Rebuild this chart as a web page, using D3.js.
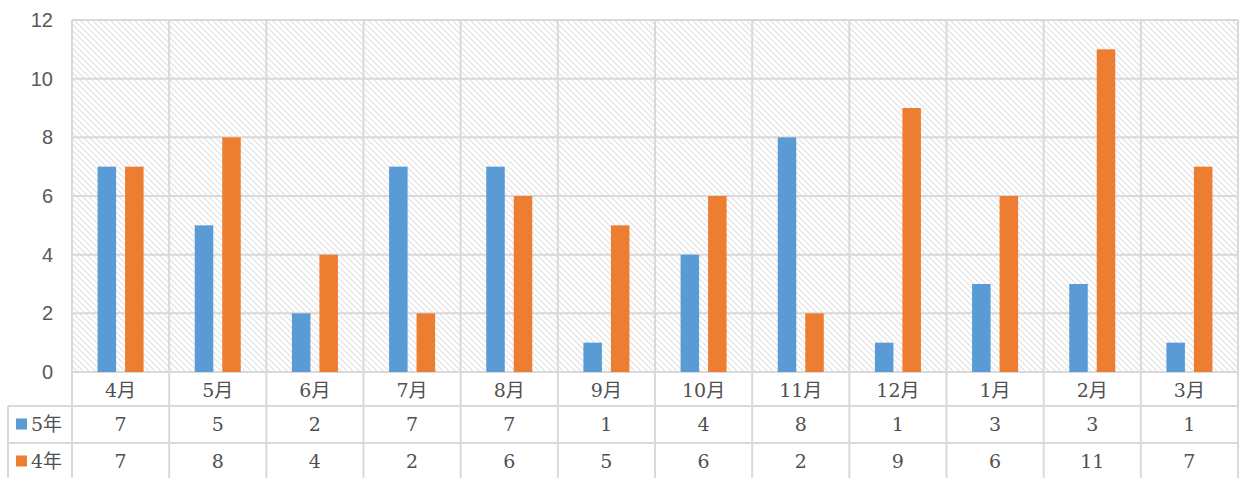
<!DOCTYPE html>
<html>
<head>
<meta charset="utf-8">
<script src="https://cdn.jsdelivr.net/npm/d3@7"></script>
<style>
  body { margin: 0; background: #fff; }
  .ytick { font-family: "Liberation Sans", Arial, sans-serif; font-size: 20px; fill: #595959; }
  .cell { font-family: "DejaVu Serif", "Liberation Serif", "Noto Sans CJK JP", serif; font-size: 19px; fill: #505050; }
</style>
</head>
<body>
<div id="chart"></div>
<script>
var months = ["4月", "5月", "6月", "7月", "8月", "9月", "10月", "11月", "12月", "1月", "2月", "3月"];
var seriesNames = ["5年", "4年"];
var series5 = [7, 5, 2, 7, 7, 1, 4, 8, 1, 3, 3, 1];
var series4 = [7, 8, 4, 2, 6, 5, 6, 2, 9, 6, 11, 7];
var seriesColors = ["#5B9BD5", "#ED7D31"];
var yTicks = [0, 2, 4, 6, 8, 10, 12];

// set the dimensions of the chart
var W = 1247, H = 478;
var plot = {left: 72, right: 1238, top: 20, bottom: 372};
var rowH = [34, 37, 37];   // category row, 5年 row, 4年 row
var tableLeft = 8;

var svg = d3.select("#chart")
  .append("svg")
    .attr("width", W)
    .attr("height", H);

// hatch pattern for plot background
var defs = svg.append("defs");
var pat = defs.append("pattern")
    .attr("id", "hatch")
    .attr("patternUnits", "userSpaceOnUse")
    .attr("width", 6)
    .attr("height", 6);
pat.append("path")
    .attr("d", "M-1,-1 L7,7 M-1,5 L1,7 M5,-1 L7,1")
    .attr("stroke", "#e0e0e0")
    .attr("stroke-width", 1.2);

var x = d3.scaleBand()
  .domain(months)
  .range([plot.left, plot.right]);

var x1 = d3.scaleBand()
  .domain(seriesNames)
  .range([0, x.bandwidth()])
  .paddingInner(0.327)
  .paddingOuter(0.93);

var y = d3.scaleLinear()
  .domain([0, 12])
  .range([plot.bottom, plot.top]);

svg.append("rect")
  .attr("x", plot.left)
  .attr("y", plot.top)
  .attr("width", plot.right - plot.left)
  .attr("height", plot.bottom - plot.top)
  .attr("fill", "url(#hatch)");

var gridColor = "#d9d9d9";

// horizontal gridlines
svg.append("g")
  .selectAll("line")
  .data(yTicks)
  .enter()
  .append("line")
    .attr("x1", plot.left)
    .attr("x2", plot.right)
    .attr("y1", function(d) { return y(d); })
    .attr("y2", function(d) { return y(d); })
    .attr("stroke", gridColor)
    .attr("stroke-width", 2);

// y tick labels
svg.append("g")
  .selectAll("text")
  .data(yTicks)
  .enter()
  .append("text")
    .attr("class", "ytick")
    .attr("x", 53)
    .attr("y", function(d) { return y(d); })
    .attr("dy", "0.35em")
    .attr("text-anchor", "end")
    .text(function(d) { return d; });

// vertical lines (category boundaries), run through plot and table
var tableBottom = plot.bottom + rowH[0] + rowH[1] + rowH[2];
var bounds = months.map(function(m) { return x(m); }).concat([plot.right]);
svg.append("g")
  .selectAll("line")
  .data(bounds)
  .enter()
  .append("line")
    .attr("x1", function(d) { return d; })
    .attr("x2", function(d) { return d; })
    .attr("y1", plot.top)
    .attr("y2", tableBottom + 5)
    .attr("stroke", gridColor)
    .attr("stroke-width", 2);

// table horizontal lines and left column lines
var row1 = plot.bottom + rowH[0];
var row2 = row1 + rowH[1];
svg.append("g")
  .selectAll("line")
  .data([row1, row2])
  .enter()
  .append("line")
    .attr("x1", tableLeft)
    .attr("x2", plot.right)
    .attr("y1", function(d) { return d; })
    .attr("y2", function(d) { return d; })
    .attr("stroke", gridColor)
    .attr("stroke-width", 2);
svg.append("line")
  .attr("x1", tableLeft).attr("x2", tableLeft)
  .attr("y1", row1).attr("y2", tableBottom + 5)
  .attr("stroke", gridColor).attr("stroke-width", 2);

// bars
var bars = [series5, series4];
bars.forEach(function(vals, si) {
  svg.append("g")
    .selectAll("rect")
    .data(vals)
    .enter()
    .append("rect")
      .attr("x", function(d, i) { return x(months[i]) + x1(seriesNames[si]); })
      .attr("y", function(d) { return y(d); })
      .attr("width", x1.bandwidth())
      .attr("height", function(d) { return y(0) - y(d); })
      .attr("fill", seriesColors[si]);
});

// category labels
svg.append("g")
  .selectAll("text")
  .data(months)
  .enter()
  .append("text")
    .attr("class", "cell")
    .attr("x", function(d) { return x(d) + x.bandwidth() / 2; })
    .attr("y", plot.bottom + rowH[0] / 2 + 1)
    .attr("dy", "0.35em")
    .attr("text-anchor", "middle")
    .text(function(d) { return d; });

// data table rows
var rowY = [row1 + rowH[1] / 2, row2 + rowH[2] / 2];
bars.forEach(function(vals, si) {
  svg.append("g")
    .selectAll("text")
    .data(vals)
    .enter()
    .append("text")
      .attr("class", "cell")
      .attr("x", function(d, i) { return x(months[i]) + x.bandwidth() / 2; })
      .attr("y", rowY[si])
      .attr("dy", "0.35em")
      .attr("text-anchor", "middle")
      .text(function(d) { return d; });

  // legend key
  svg.append("rect")
    .attr("x", 16)
    .attr("y", rowY[si] - 6)
    .attr("width", 11)
    .attr("height", 11)
    .attr("fill", seriesColors[si]);
  svg.append("text")
    .attr("class", "cell")
    .attr("x", 31)
    .attr("y", rowY[si])
    .attr("dy", "0.35em")
    .text(seriesNames[si]);
});
</script>
</body>
</html>
